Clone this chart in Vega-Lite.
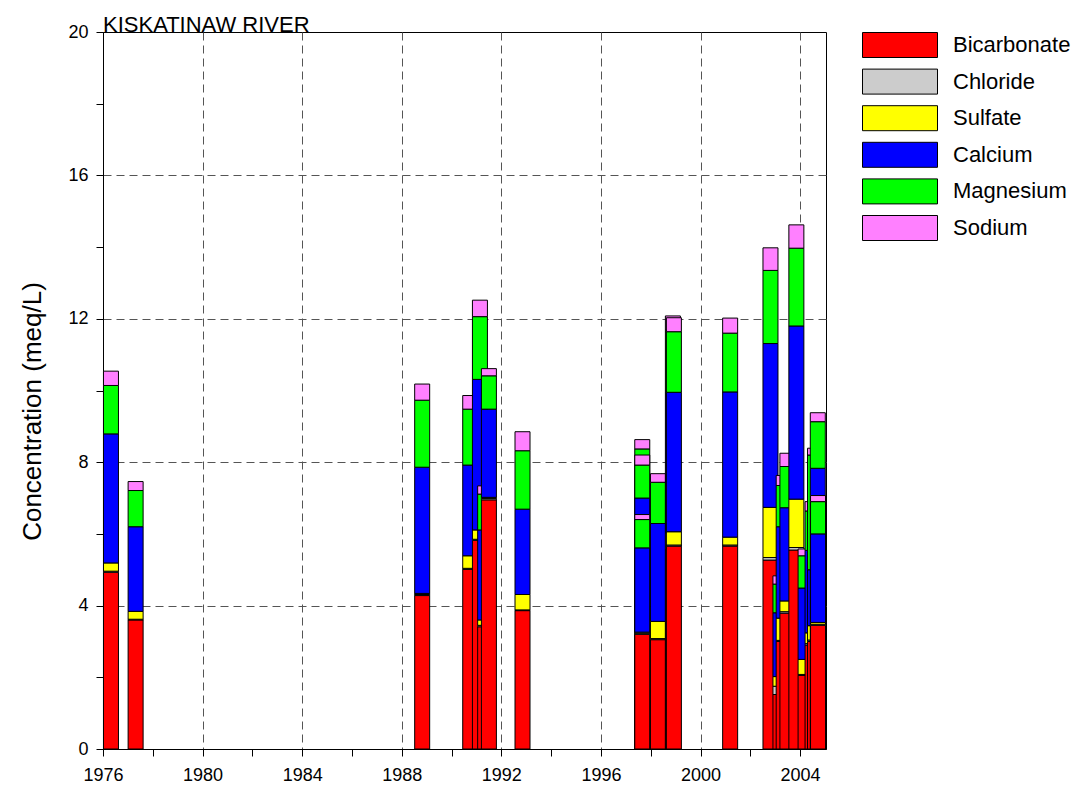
{
  "$schema": "https://vega.github.io/schema/vega-lite/v6.json",
  "autosize": {"type": "none"},
  "width": 723,
  "height": 717,
  "padding": {"left": 103, "top": 32, "right": 256, "bottom": 44},
  "background": "white",
  "title": {"text": "KISKATINAW RIVER", "anchor": "start", "frame": "group", "font": "Liberation Sans", "fontSize": 22, "fontWeight": "normal", "color": "black", "baseline": "alphabetic", "offset": -31},
  "config": {
    "view": {"stroke": "black", "strokeWidth": 1},
    "axis": {"domainColor": "black", "tickColor": "black", "labelColor": "black", "labelFont": "Liberation Sans", "labelFontSize": 18, "tickSize": 7, "labelOverlap": false, "labelFlush": false, "titleFont": "Liberation Sans", "titleColor": "black", "titleFontWeight": "normal", "gridDash": [8, 5], "gridColor": "#555555", "gridWidth": 1}
  },
  "data": {"values": [
    {"s": 1, "year": 1976.32, "Bicarbonate": 4.93, "Chloride": 0.03, "Sulfate": 0.23, "Calcium": 3.60, "Magnesium": 1.35, "Sodium": 0.40},
    {"s": 2, "year": 1977.31, "Bicarbonate": 3.60, "Chloride": 0.02, "Sulfate": 0.22, "Calcium": 2.36, "Magnesium": 1.01, "Sodium": 0.25},
    {"s": 3, "year": 1988.82, "Bicarbonate": 4.28, "Chloride": 0.03, "Sulfate": 0.03, "Calcium": 3.52, "Magnesium": 1.87, "Sodium": 0.45},
    {"s": 4, "year": 1990.75, "Bicarbonate": 5.01, "Chloride": 0.03, "Sulfate": 0.35, "Calcium": 2.53, "Magnesium": 1.56, "Sodium": 0.38},
    {"s": 5, "year": 1991.14, "Bicarbonate": 5.82, "Chloride": 0.03, "Sulfate": 0.26, "Calcium": 4.20, "Magnesium": 1.75, "Sodium": 0.46},
    {"s": 6, "year": 1991.35, "Bicarbonate": 3.41, "Chloride": 0.04, "Sulfate": 0.15, "Calcium": 2.51, "Magnesium": 1.00, "Sodium": 0.23},
    {"s": 7, "year": 1991.50, "Bicarbonate": 6.95, "Chloride": 0.04, "Sulfate": 0.03, "Calcium": 2.46, "Magnesium": 0.93, "Sodium": 0.20},
    {"s": 8, "year": 1992.85, "Bicarbonate": 3.86, "Chloride": 0.02, "Sulfate": 0.43, "Calcium": 2.38, "Magnesium": 1.63, "Sodium": 0.53},
    {"s": 9, "year": 1997.66, "Bicarbonate": 3.30, "Chloride": 0.04, "Sulfate": 0.35, "Calcium": 3.60, "Magnesium": 1.08, "Sodium": 0.26},
    {"s": 10, "year": 1997.66, "Bicarbonate": 3.20, "Chloride": 0.04, "Sulfate": 0.36, "Calcium": 3.40, "Magnesium": 0.92, "Sodium": 0.28},
    {"s": 11, "year": 1997.66, "Bicarbonate": 3.20, "Chloride": 0.03, "Sulfate": 0.03, "Calcium": 2.35, "Magnesium": 0.79, "Sodium": 0.14},
    {"s": 12, "year": 1998.29, "Bicarbonate": 3.05, "Chloride": 0.03, "Sulfate": 0.48, "Calcium": 2.73, "Magnesium": 1.15, "Sodium": 0.24},
    {"s": 13, "year": 1998.89, "Bicarbonate": 5.60, "Chloride": 0.03, "Sulfate": 0.40, "Calcium": 3.95, "Magnesium": 1.70, "Sodium": 0.40},
    {"s": 14, "year": 1998.93, "Bicarbonate": 5.66, "Chloride": 0.03, "Sulfate": 0.37, "Calcium": 3.89, "Magnesium": 1.69, "Sodium": 0.39},
    {"s": 15, "year": 2001.19, "Bicarbonate": 5.66, "Chloride": 0.03, "Sulfate": 0.22, "Calcium": 4.05, "Magnesium": 1.64, "Sodium": 0.42},
    {"s": 16, "year": 2002.81, "Bicarbonate": 5.27, "Chloride": 0.07, "Sulfate": 1.40, "Calcium": 4.57, "Magnesium": 2.04, "Sodium": 0.63},
    {"s": 17, "year": 2003.21, "Bicarbonate": 1.52, "Chloride": 0.23, "Sulfate": 0.27, "Calcium": 1.78, "Magnesium": 0.80, "Sodium": 0.23},
    {"s": 18, "year": 2003.34, "Bicarbonate": 3.00, "Chloride": 0.03, "Sulfate": 0.62, "Calcium": 2.55, "Magnesium": 1.15, "Sodium": 0.28},
    {"s": 19, "year": 2003.49, "Bicarbonate": 3.79, "Chloride": 0.04, "Sulfate": 0.30, "Calcium": 2.60, "Magnesium": 1.15, "Sodium": 0.37},
    {"s": 20, "year": 2003.85, "Bicarbonate": 5.55, "Chloride": 0.07, "Sulfate": 1.35, "Calcium": 4.83, "Magnesium": 2.17, "Sodium": 0.65},
    {"s": 21, "year": 2004.22, "Bicarbonate": 2.05, "Chloride": 0.03, "Sulfate": 0.42, "Calcium": 1.99, "Magnesium": 0.90, "Sodium": 0.19},
    {"s": 22, "year": 2004.50, "Bicarbonate": 2.90, "Chloride": 0.04, "Sulfate": 0.30, "Calcium": 2.30, "Magnesium": 1.10, "Sodium": 0.26},
    {"s": 23, "year": 2004.60, "Bicarbonate": 3.00, "Chloride": 0.04, "Sulfate": 0.40, "Calcium": 1.56, "Magnesium": 3.20, "Sodium": 0.19},
    {"s": 24, "year": 2004.71, "Bicarbonate": 3.40, "Chloride": 0.04, "Sulfate": 0.45, "Calcium": 3.94, "Magnesium": 1.30, "Sodium": 0.25},
    {"s": 25, "year": 2004.72, "Bicarbonate": 3.45, "Chloride": 0.03, "Sulfate": 0.05, "Calcium": 2.47, "Magnesium": 0.90, "Sodium": 0.17}
  ]},
  "transform": [
    {"fold": ["Bicarbonate", "Chloride", "Sulfate", "Calcium", "Magnesium", "Sodium"], "as": ["ion", "v"]},
    {"stack": "v", "groupby": ["s"], "as": ["v0", "v1"]}
  ],
  "mark": {"type": "bar", "size": 15, "stroke": "black", "strokeWidth": 1},
  "encoding": {
    "x": {"field": "year", "type": "quantitative",
      "scale": {"domain": [1976, 2005.04], "nice": false, "zero": false, "padding": 0},
      "axis": {"title": null, "values": [1976, 1978, 1980, 1982, 1984, 1986, 1988, 1990, 1992, 1994, 1996, 1998, 2000, 2002, 2004], "format": "d", "labelExpr": "datum.value % 4 === 0 ? datum.label : ''", "labelPadding": 10, "grid": true, "gridOpacity": {"condition": {"test": "datum.value % 4 === 0 && datum.value > 1976", "value": 1}, "value": 0}}},
    "y": {"field": "v0", "type": "quantitative",
      "scale": {"domain": [0, 20], "nice": false},
      "axis": {"title": "Concentration (meq/L)", "titleFontSize": 26, "titleX": -71, "titleY": 379, "titleAlign": "center", "titleBaseline": "middle", "values": [0, 2, 4, 6, 8, 10, 12, 14, 16, 18, 20], "format": "d", "labelExpr": "datum.value % 4 === 0 ? datum.label : ''", "labelPadding": 8, "grid": true, "gridOpacity": {"condition": {"test": "datum.value % 4 === 0 && datum.value > 0 && datum.value < 20", "value": 1}, "value": 0}}},
    "y2": {"field": "v1"},
    "color": {"field": "ion", "type": "nominal",
      "scale": {"domain": ["Bicarbonate", "Chloride", "Sulfate", "Calcium", "Magnesium", "Sodium"], "range": ["#ff0000", "#cccccc", "#ffff00", "#0000ff", "#00ff00", "#ff80ff"]},
      "legend": {"title": null, "orient": "right", "offset": 36, "padding": 0, "symbolType": "M-1,-1H5V1H-1Z", "symbolSize": 625, "symbolStrokeColor": "black", "symbolStrokeWidth": 1, "symbolOpacity": 1, "labelFont": "Liberation Sans", "labelFontSize": 22, "labelColor": "black", "labelOffset": 65, "rowPadding": 6.6, "labelLimit": 300}}
  }
}
